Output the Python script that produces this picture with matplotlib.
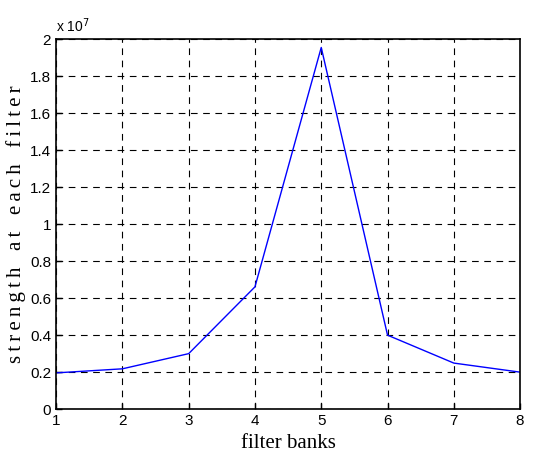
import matplotlib
matplotlib.use('Agg')
import matplotlib.pyplot as plt
from matplotlib.ticker import FuncFormatter

banks = [1, 2, 3, 4, 5, 6, 7, 8]
strength = [0.196e7, 0.218e7, 0.30e7, 0.661e7, 1.955e7, 0.40e7, 0.249e7, 0.20e7]
yticks = [0, 0.2e7, 0.4e7, 0.6e7, 0.8e7, 1.0e7, 1.2e7, 1.4e7, 1.6e7, 1.8e7, 2.0e7]

fig = plt.figure(figsize=(5.34, 4.66), dpi=100)
ax = fig.add_axes([0.105, 0.122, 0.869, 0.794])
ax.plot(banks, strength, color='#0000ff', lw=1)
ax.set_xlim(1, 8)
ax.set_ylim(0, 2e7)
ax.set_xticks(banks)
ax.set_yticks(yticks)
ax.yaxis.set_major_formatter(FuncFormatter(lambda v, p: '0' if v == 0 else ('%g' % (v / 1e7))))
ax.grid(True, color='black', linestyle=(0, (6, 5)), lw=0.8)
ax.tick_params(direction='in', length=4, labelsize=11, width=1)
for lab in ax.get_xticklabels() + ax.get_yticklabels():
    lab.set_family('Liberation Sans')
for s in ax.spines.values():
    s.set_linewidth(1.2)
ax.text(0, 1.01, 'x 10$^7$', transform=ax.transAxes, fontsize=10,
        family='Liberation Sans', va='bottom', ha='left')
ax.set_xlabel('filter banks', family='Liberation Serif', fontsize=15, labelpad=4)
thin = '\u2009'
ylab = (thin * 4).join(thin.join(w) for w in 'strength at each filter'.split())
ax.set_ylabel(ylab, family=['Liberation Serif', 'DejaVu Serif'], fontsize=15, labelpad=3)
fig.savefig('out.png', dpi=100)
